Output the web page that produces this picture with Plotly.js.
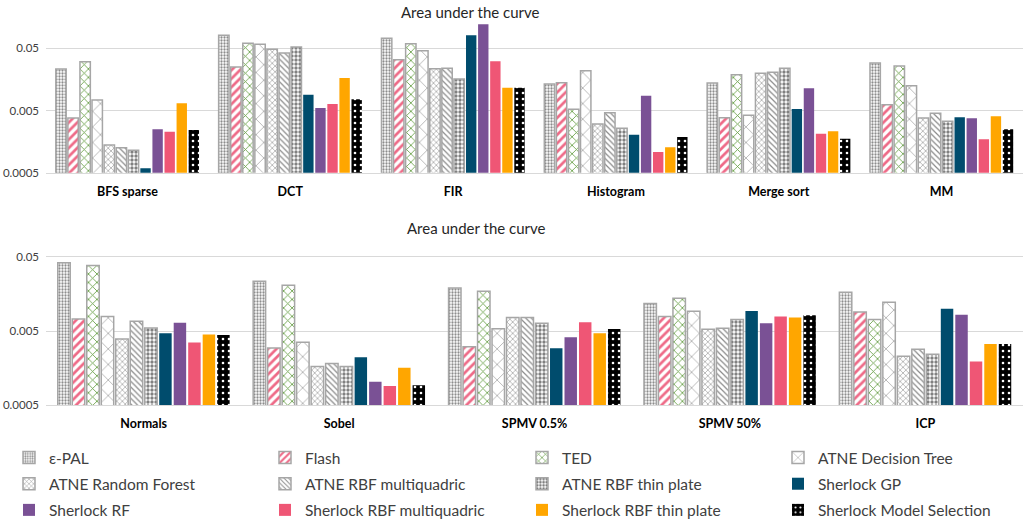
<!DOCTYPE html>
<html><head><meta charset="utf-8">
<script src="https://cdn.plot.ly/plotly-3.0.1.min.js"></script>
<style>html,body{margin:0;padding:0;background:#fff}#chart{width:1024px;height:522px}</style>
</head><body><div id="chart"></div>
<script>
// ---- data ----
const topCategories = ["BFS sparse", "DCT", "FIR", "Histogram", "Merge sort", "MM"];
const bottomCategories = ["Normals", "Sobel", "SPMV 0.5%", "SPMV 50%", "ICP"];
const seriesNames = ["ε-PAL", "Flash", "TED", "ATNE Decision Tree",
  "ATNE Random Forest", "ATNE RBF multiquadric", "ATNE RBF thin plate", "Sherlock GP",
  "Sherlock RF", "Sherlock RBF multiquadric", "Sherlock RBF thin plate", "Sherlock Model Selection"];
// values: 6 top categories followed by 5 bottom categories
const epal        = [0.0232, 0.0809, 0.0724, 0.0133, 0.0138, 0.029,   0.0415, 0.0233, 0.0189, 0.0117, 0.0166];
const flash       = [0.00378, 0.025, 0.0328, 0.014, 0.00383, 0.0062,  0.00725, 0.00295, 0.00308, 0.00787, 0.00901];
const ted         = [0.0305, 0.0601, 0.0593, 0.00523, 0.0188, 0.0259, 0.0382, 0.0206, 0.0171, 0.0138, 0.00717];
const atneDT      = [0.00737, 0.058, 0.0457, 0.0218, 0.00418, 0.0125, 0.00787, 0.00352, 0.00538, 0.0092, 0.0122];
const atneRF      = [0.00139, 0.0482, 0.0235, 0.00303, 0.0198, 0.00378, 0.0039, 0.00166, 0.00763, 0.00527, 0.00228];
const atneMulti   = [0.00126, 0.042, 0.0238, 0.00461, 0.0206, 0.00451, 0.00675, 0.00182, 0.00763, 0.00543, 0.00283];
const atneThin    = [0.00115, 0.0524, 0.016, 0.00259, 0.0238, 0.00335, 0.00549, 0.00167, 0.00634, 0.00717, 0.00243];
const sherGP      = [0.000589, 0.00897, 0.0809, 0.00204, 0.00529, 0.00389, 0.00465, 0.00221, 0.00292, 0.00929, 0.00998];
const sherRF      = [0.00249, 0.00548, 0.1216, 0.00865, 0.0114, 0.00374, 0.00647, 0.00104, 0.00411, 0.00634, 0.0083];
const sherMulti   = [0.00228, 0.00635, 0.0309, 0.00108, 0.00212, 0.00172, 0.00349, 0.00091, 0.00654, 0.00787, 0.00195];
const sherThin    = [0.00653, 0.0166, 0.0116, 0.00128, 0.00232, 0.00403, 0.0045, 0.0016, 0.00465, 0.00763, 0.00334];
const sherMS      = [0.00243, 0.00757, 0.0116, 0.00187, 0.00176, 0.00249, 0.00442, 0.00093, 0.00532, 0.00813, 0.00334];
const seriesValues = [epal, flash, ted, atneDT, atneRF, atneMulti, atneThin, sherGP, sherRF, sherMulti, sherThin, sherMS];
const tickVals = [0.0005, 0.005, 0.05];
const tickText = ["0.0005", "0.005", "0.05"];
const chartTitle = "Area under the curve";

// ---- styles ----
const G = '#a6a6a6';
function pat(shape, fg, size, sol) {
  return {color: '#ffffff', pattern: {shape: shape, fgcolor: fg, bgcolor: '#ffffff', size: size, solidity: sol}, line: {color: G, width: 1.5}};
}
function solid(c) { return {color: c, line: {width: 0}}; }
const markers = [
  pat('.', '#8c8c8c', 3, 0.45),
  pat('/', '#ee6a87', 6, 0.45),
  pat('x', '#5f9a3c', 6, 0.25),
  pat('x', '#9a9a9a', 11, 0.12),
  pat('x', '#9a9a9a', 4, 0.3),
  pat('\\', '#8a8a8a', 4, 0.3),
  pat('.', '#808080', 4, 0.55),
  solid('#004c6d'),
  solid('#7a5195'),
  solid('#ef5675'),
  solid('#ffa600'),
  {color: '#000000', pattern: {shape: '.', fgcolor: '#ffffff', bgcolor: '#000000', size: 6, solidity: 0.15}, line: {width: 0}}
];
const legendNames = ['legend', 'legend2', 'legend3', 'legend4'];

const traces = [];
seriesNames.forEach((name, i) => {
  const vals = seriesValues[i];
  traces.push({type: 'bar', name: name, x: topCategories, y: vals.slice(0, 6), xaxis: 'x', yaxis: 'y',
    marker: markers[i], legend: legendNames[i % 4], legendgroup: 'g' + i, showlegend: true, hoverinfo: 'x+y+name'});
  traces.push({type: 'bar', name: name, x: bottomCategories, y: vals.slice(6), xaxis: 'x2', yaxis: 'y2',
    marker: markers[i], legend: legendNames[i % 4], legendgroup: 'g' + i, showlegend: false, hoverinfo: 'x+y+name'});
});

const FONT = 'Lato, "Liberation Sans", sans-serif';
const legendX = [9, 265, 522, 778];
const legendBase = {orientation: 'v', xref: 'container', yref: 'container', y: 1 - 441 / 522, yanchor: 'top',
  xanchor: 'left', bgcolor: 'rgba(0,0,0,0)', font: {family: FONT, size: 15.5, color: '#404040'},
  traceorder: 'grouped', tracegroupgap: 3, itemclick: false, itemdoubleclick: false};

const xax = {type: 'category', showline: true, linecolor: '#d9d9d9', linewidth: 1, ticks: '', showgrid: false,
  tickfont: {family: FONT, size: 12.5, color: '#000', weight: 'bold'}, ticklabelstandoff: 7, fixedrange: true,
  automargin: false, tickangle: 0};
const yax = {type: 'log', tickvals: tickVals, ticktext: tickText, gridcolor: '#d9d9d9', gridwidth: 1,
  zeroline: false, showline: false, ticks: '', tickfont: {family: FONT, size: 11.5, color: '#404040'},
  ticklabelstandoff: 6, fixedrange: true, automargin: false};

const layout = {
  width: 1024, height: 522,
  margin: {l: 46, r: 1, t: 0, b: 0, autoexpand: false},
  paper_bgcolor: '#fff', plot_bgcolor: '#fff',
  barmode: 'group', bargap: 0.11, bargroupgap: 0.14,
  font: {family: FONT},
  xaxis: Object.assign({}, xax, {domain: [0, 1], anchor: 'y'}),
  yaxis: Object.assign({}, yax, {domain: [0.6692, 0.9655], anchor: 'x', range: [Math.log10(0.0005), -0.814]}),
  xaxis2: Object.assign({}, xax, {domain: [0, 1], anchor: 'y2'}),
  yaxis2: Object.assign({}, yax, {domain: [0.2236, 0.5402], anchor: 'x2', range: [Math.log10(0.0005), -1.076]}),
  annotations: [
    {text: chartTitle, xref: 'paper', yref: 'paper', x: 0.434, y: 0.9776, xanchor: 'center', yanchor: 'middle',
      showarrow: false, font: {family: FONT, size: 15, color: '#262626'}},
    {text: chartTitle, xref: 'paper', yref: 'paper', x: 0.441, y: 0.5638, xanchor: 'center', yanchor: 'middle',
      showarrow: false, font: {family: FONT, size: 15, color: '#262626'}}
  ]
};
legendNames.forEach((ln, k) => { layout[ln] = Object.assign({}, legendBase, {x: legendX[k] / 1024}); });

Plotly.newPlot('chart', traces, layout, {displayModeBar: false, staticPlot: true});
</script>
</body></html>
